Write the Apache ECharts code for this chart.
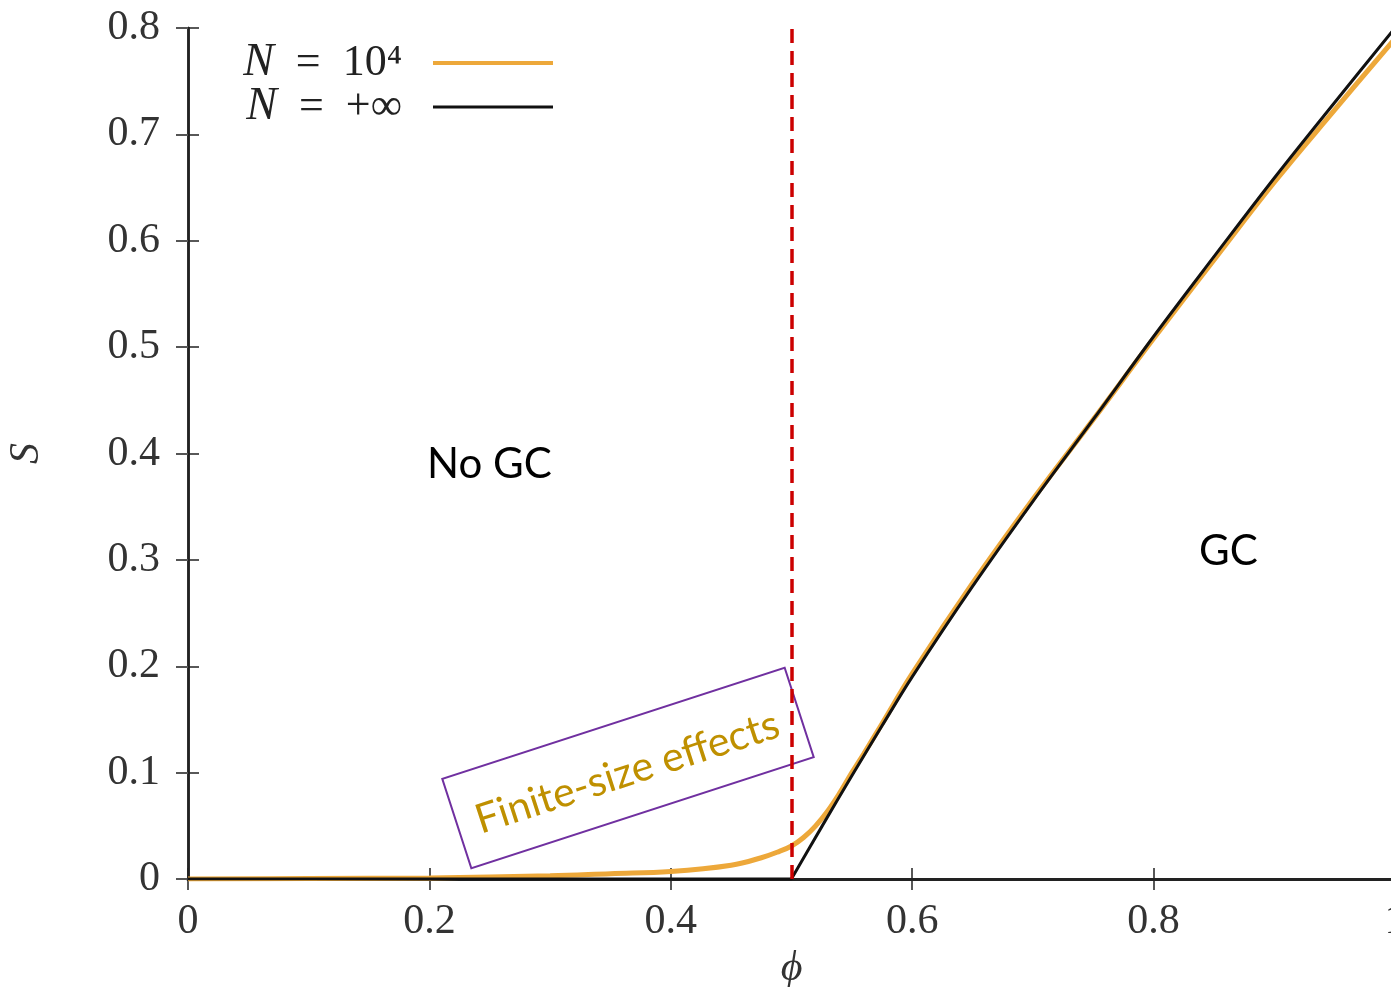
<!DOCTYPE html>
<html>
<head>
<meta charset="utf-8">
<script src="https://cdn.jsdelivr.net/npm/echarts@6/dist/echarts.min.js"></script>
<style>
    html, body { margin: 0; padding: 0; background: #fff; }
    #chart { width: 1391px; height: 987px; }
</style>
</head>
<body>
<div id="chart"></div>
<script>
    // N = +inf (black)
    const phiInf = [0, 0.4999, 0.5, 0.525, 0.55, 0.575, 0.6, 0.65, 0.7, 0.75, 0.8, 0.85, 0.9, 0.95, 1.0]
    const sInf = [0, 0, 0, 0.049, 0.097, 0.144, 0.19, 0.275, 0.355, 0.432, 0.51, 0.585, 0.659, 0.73, 0.8]
    // N = 10^4 (orange)
    const phi10k = [0, 0.1, 0.2, 0.3, 0.35, 0.4, 0.45, 0.475, 0.49, 0.5, 0.51, 0.52, 0.53, 0.54, 0.55, 0.56, 0.575, 0.6, 0.65, 0.7, 0.75, 0.8, 0.85, 0.9, 0.95, 1.0]
    const s10k = [0, 0.0005, 0.001, 0.003, 0.005, 0.007, 0.013, 0.02, 0.026, 0.031, 0.039, 0.05, 0.064, 0.081, 0.1, 0.118, 0.146, 0.193, 0.278, 0.357, 0.432, 0.508, 0.582, 0.655, 0.723, 0.79]
    const seriesNames = ['N = 10⁴', 'N = +∞']
    const phiCritical = 0.5

    const serif = '"Liberation Serif", "DejaVu Serif", serif'
    const sans = 'Lato, "Open Sans", sans-serif'
    const axisColor = '#222'

    const zip = (xs, ys) => xs.map((x, i) => [x, ys[i]])

    const chartInstance = echarts.init(document.getElementById('chart'))

    const legendText = {
        fontFamily: serif,
        fontSize: 44,
        color: '#222',
        rich: {
            i: { fontFamily: serif, fontStyle: 'italic', fontSize: 46, color: '#222' },
            r: { fontFamily: serif, fontSize: 44, color: '#222' },
            g: { width: 26 }
        }
    }
    // italic N, wider spaces round "=", gap before the line sample
    const legendFmt = name => '{i|N}{r|' + name.slice(1).replace(/ /g, '\u2002') + '}{g|}'

    const option = {
        animation: false,
        backgroundColor: '#fff',
        grid: { left: 188, top: 28, right: -4, bottom: 108, containLabel: false, outerBoundsMode: 'none' },
        legend: [
            {
                data: [seriesNames[0]], right: 838, top: 40, padding: 0, orient: 'vertical', align: 'right',
                icon: 'rect', itemWidth: 120, itemHeight: 4,
                textStyle: legendText, formatter: legendFmt
            },
            {
                data: [seriesNames[1]], right: 838, top: 84, padding: 0, orient: 'vertical', align: 'right',
                icon: 'rect', itemWidth: 120, itemHeight: 3,
                textStyle: legendText, formatter: legendFmt
            }
        ],
        xAxis: [
            {
                type: 'value', min: 0, max: 1, interval: 0.2,
                name: 'ϕ', nameLocation: 'middle', nameGap: 64,
                nameTextStyle: { fontFamily: serif, fontStyle: 'italic', fontSize: 42, color: '#333' },
                axisLine: { show: true, lineStyle: { color: axisColor, width: 2.5 } },
                axisTick: { show: true, inside: true, length: 11, lineStyle: { color: axisColor, width: 1.5 } },
                axisLabel: { margin: 22, fontFamily: serif, fontSize: 42, color: '#333' },
                splitLine: { show: false }
            },
            {
                type: 'value', min: 0, max: 1, interval: 0.2, position: 'top',
                axisLine: { show: true, lineStyle: { color: axisColor, width: 3 } },
                axisTick: { show: true, inside: true, length: 11, lineStyle: { color: axisColor, width: 1.5 } },
                axisLabel: { show: false },
                splitLine: { show: false }
            }
        ],
        yAxis: [
            {
                type: 'value', min: 0, max: 0.8, interval: 0.1,
                name: 'S', nameLocation: 'middle', nameGap: 140, nameRotate: 90,
                nameTextStyle: { fontFamily: serif, fontStyle: 'italic', fontSize: 42, color: '#333' },
                axisLine: { show: true, lineStyle: { color: axisColor, width: 2.5 } },
                axisTick: { show: true, inside: true, length: 11, lineStyle: { color: axisColor, width: 1.5 } },
                axisLabel: { margin: 28, fontFamily: serif, fontSize: 42, color: '#333' },
                splitLine: { show: false }
            },
            {
                type: 'value', min: 0, max: 0.8, interval: 0.1, position: 'right',
                axisLine: { show: true, lineStyle: { color: axisColor, width: 2.5 } },
                axisTick: { show: true, inside: true, length: 12, lineStyle: { color: '#555', width: 2 } },
                axisLabel: { show: false },
                splitLine: { show: false }
            }
        ],
        series: [
            {
                name: seriesNames[0], type: 'line', xAxisIndex: 0, yAxisIndex: 0,
                data: zip(phi10k, s10k), smooth: 0.4,
                showSymbol: false, symbol: 'none',
                itemStyle: { color: '#EDA83A' },
                lineStyle: { color: '#EDA83A', width: 5 },
                z: 3
            },
            {
                name: seriesNames[1], type: 'line', xAxisIndex: 0, yAxisIndex: 0,
                data: zip(phiInf, sInf), smooth: 0.35,
                showSymbol: false, symbol: 'none',
                itemStyle: { color: '#111' },
                lineStyle: { color: '#111', width: 3 },
                z: 4,
                markLine: {
                    silent: true, symbol: 'none', label: { show: false },
                    lineStyle: { color: '#CC0000', width: 3.5, type: [14, 8] },
                    data: [{ xAxis: phiCritical }]
                }
            }
        ],
        graphic: [
            {
                type: 'text', left: 427, top: 443,
                style: { text: 'No GC', fontFamily: sans, fontSize: 42, fill: '#000' }
            },
            {
                type: 'text', left: 1199, top: 530,
                style: { text: 'GC', fontFamily: sans, fontSize: 42, fill: '#000' }
            },
            {
                type: 'group', x: 628, y: 768, rotation: 18 * Math.PI / 180,
                children: [
                    {
                        type: 'rect',
                        shape: { x: -180, y: -47, width: 360, height: 94 },
                        style: { fill: 'none', stroke: '#7030A0', lineWidth: 2 }
                    },
                    {
                        type: 'text', x: -2, y: 4,
                        style: {
                            text: 'Finite-size effects', fontFamily: sans, fontSize: 41, fill: '#BF9000',
                            align: 'center', verticalAlign: 'middle'
                        }
                    }
                ]
            }
        ]
    }
    chartInstance.setOption(option)
</script>
</body>
</html>
